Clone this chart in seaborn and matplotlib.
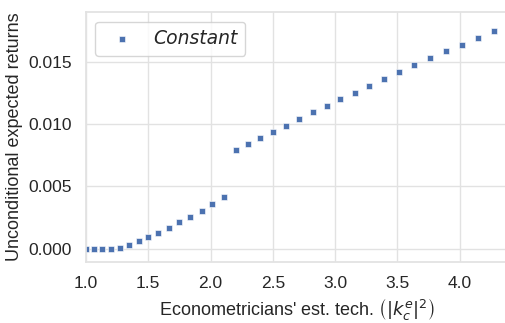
import matplotlib
matplotlib.use("Agg")
import matplotlib.pyplot as plt
import seaborn as sns
import pandas as pd

x_vals = [1.000, 1.066, 1.130, 1.200, 1.275, 1.347, 1.425, 1.500, 1.580, 1.664,
          1.749, 1.835, 1.929, 2.014, 2.111, 2.203, 2.301, 2.398, 2.500, 2.607,
          2.710, 2.821, 2.934, 3.043, 3.159, 3.274, 3.393, 3.515, 3.636, 3.762,
          3.888, 4.016, 4.145, 4.279]
y_vals = [0.00000, -0.00005, -0.00005, -0.00002, 0.00008, 0.00032, 0.00062, 0.00091,
          0.00128, 0.00169, 0.00212, 0.00257, 0.00305, 0.00359, 0.00415, 0.00795,
          0.00843, 0.00888, 0.00937, 0.00990, 0.01041, 0.01095, 0.01145, 0.01201,
          0.01255, 0.01308, 0.01364, 0.01420, 0.01477, 0.01531, 0.01587, 0.01640,
          0.01697, 0.01750]
series_label = "Constant"
x_ticks = [1.0, 1.5, 2.0, 2.5, 3.0, 3.5, 4.0]
y_ticks = [0.000, 0.005, 0.010, 0.015]

df = pd.DataFrame({"x": x_vals, "y": y_vals})

sns.set_theme(style="whitegrid", rc={"grid.color": "#e2e2e2", "axes.edgecolor": "#e2e2e2",
                                     "grid.linewidth": 1.0})
plt.rcParams['font.family'] = ['Liberation Sans', 'DejaVu Sans']

fig = plt.figure(figsize=(5.06, 3.23), dpi=100)
ax = fig.add_axes([0.170, 0.190, 0.832, 0.772])
sns.scatterplot(data=df, x="x", y="y", marker="s", s=21, color="#4C72B0",
                edgecolor="white", linewidth=0.4, label=series_label, ax=ax)

ax.set_xlim(1.0, 4.38)
ax.set_ylim(-0.00104, 0.0190)
ax.set_xticks(x_ticks)
ax.set_yticks(y_ticks)
ax.set_xticklabels([f"{t:.1f}" for t in x_ticks], fontsize=12.5)
ax.set_yticklabels([f"{t:.3f}" for t in y_ticks], fontsize=12.5)
ax.tick_params(axis="both", pad=4)
ax.set_xlabel(r"Econometricians' est. tech. $\left(|k_c^e|^2\right)$", fontsize=13)
ax.set_ylabel("Unconditional expected returns", fontsize=13)
ax.legend(loc="upper left", prop={"family": "DejaVu Sans", "style": "italic", "size": 13.5},
          handletextpad=0.7, borderpad=0.4, markerscale=1.0,
          bbox_to_anchor=(0.0, 1.0), borderaxespad=0.5)

fig.savefig("out.png", dpi=100)
